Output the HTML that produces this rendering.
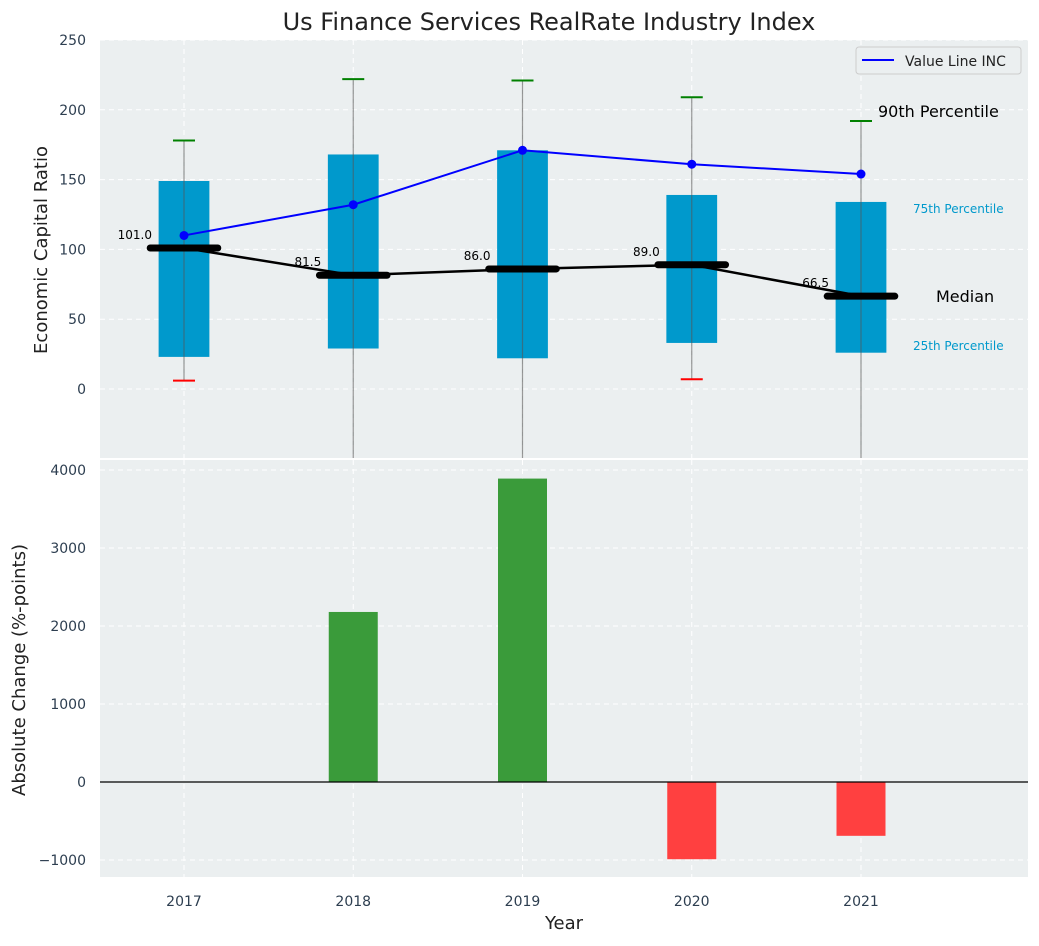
<!DOCTYPE html>
<html><head><meta charset="utf-8"><style>
body{margin:0;background:#fff;font-family:"DejaVu Sans","Liberation Sans",sans-serif;}
svg text{font-family:"DejaVu Sans","Liberation Sans",sans-serif;}
</style></head><body>
<svg id="c" width="1039" height="942" xmlns="http://www.w3.org/2000/svg"></svg>
<script>
const years=[2017,2018,2019,2020,2021];
const q1=[23,29,22,33,26];
const q3=[149,168,171,139,134];
const whiskLo=[6,-60,-60,7,-60];
const whiskHi=[178,222,221,209,192];
const medians=[101,81.5,86,89,66.5];
const valueLine=[110,132,171,161,154];
const changes=[0,2180,3890,-990,-690];
const yTicksTop=[0,50,100,150,200,250];
const yTicksBot=[-1000,0,1000,2000,3000,4000];

const NS="http://www.w3.org/2000/svg";
const svg=document.getElementById('c');
function el(t,a,p){const e=document.createElementNS(NS,t);for(const k in a)e.setAttribute(k,a[k]);(p||svg).appendChild(e);return e;}
const L=100,R=1028;
const x=v=>184+(v-2017)*169.25;
const T0=40,T1=458; const yT=v=>389-v*(389-40)/250;
const B0=460,B1=877; const yB=v=>782-v*0.078;

el('text',{x:549,y:30,'font-size':24,'text-anchor':'middle',fill:'#222',}).textContent='Us Finance Services RealRate Industry Index';

el('rect',{x:L,y:T0,width:R-L,height:T1-T0,fill:'#ebeff0',});
yTicksTop.forEach(t=>{
 el('line',{x1:L,x2:R,y1:yT(t),y2:yT(t),stroke:'#fff','stroke-dasharray':'5,4','stroke-width':1});
 const tx=el('text',{x:L-14,y:yT(t)+5,'font-size':14,'text-anchor':'end',fill:'#2d3e50'});
 tx.textContent=t;
});
years.forEach(y=>el('line',{x1:x(y),x2:x(y),y1:T0,y2:T1,stroke:'#fff','stroke-dasharray':'5,4'}));
el('text',{x:47,y:250,'font-size':18,'text-anchor':'middle',fill:'#222',transform:'rotate(-90 47 250)',}).textContent='Economic Capital Ratio';
const gTop=el('g',{'clip-path':'url(#ct)'});
const cp=el('clipPath',{id:'ct'});el('rect',{x:L,y:T0,width:R-L,height:T1-T0},cp);
const hw=0.15*(x(2018)-x(2017));
years.forEach((y,i)=>{
 const b=el('rect',{x:x(y)-hw,y:yT(q3[i]),width:2*hw,height:yT(q1[i])-yT(q3[i]),fill:'#0099cc'},gTop);
 
 el('line',{x1:x(y),x2:x(y),y1:yT(whiskHi[i]),y2:yT(whiskLo[i]),stroke:'#555','stroke-opacity':0.6,'stroke-width':1.2},gTop);
 el('line',{x1:x(y)-11,x2:x(y)+11,y1:yT(whiskHi[i]),y2:yT(whiskHi[i]),stroke:'green','stroke-width':2},gTop);
 if(whiskLo[i]>-50)el('line',{x1:x(y)-11,x2:x(y)+11,y1:yT(whiskLo[i]),y2:yT(whiskLo[i]),stroke:'red','stroke-width':2},gTop);
 const lt=el('text',{x:x(y)-32,y:yT(medians[i])-9,'font-size':12,'text-anchor':'end',fill:'#000'},gTop);
 lt.textContent=medians[i].toFixed(1);
});
el('polyline',{points:years.map((y,i)=>x(y)+','+yT(medians[i])).join(' '),fill:'none',stroke:'#000','stroke-width':2.5,},gTop);
years.forEach((y,i)=>{
 const m=el('line',{x1:x(y)-0.2*169,x2:x(y)+0.2*169,y1:yT(medians[i]),y2:yT(medians[i]),stroke:'#000','stroke-width':7,'stroke-linecap':'round'},gTop);
 
});
el('polyline',{points:years.map((y,i)=>x(y)+','+yT(valueLine[i])).join(' '),fill:'none',stroke:'blue','stroke-width':2,},gTop);
years.forEach((y,i)=>{const c=el('circle',{cx:x(y),cy:yT(valueLine[i]),r:4.5,fill:'blue'},gTop);});
el('text',{x:878,y:117,'font-size':16,fill:'#000',}).textContent='90th Percentile';
el('text',{x:913,y:213,'font-size':12,fill:'#0099cc',}).textContent='75th Percentile';
el('text',{x:936,y:302,'font-size':16,fill:'#000',}).textContent='Median';
el('text',{x:913,y:350,'font-size':12,fill:'#0099cc',}).textContent='25th Percentile';
const lg=el('g',{});
el('rect',{x:856,y:47,width:165,height:27,rx:3,fill:'#ebeff0',stroke:'#ccc'},lg);
el('line',{x1:862,x2:894,y1:60,y2:60,stroke:'blue','stroke-width':2},lg);
el('text',{x:905,y:66,'font-size':14,fill:'#222'},lg).textContent='Value Line INC';

el('rect',{x:L,y:B0,width:R-L,height:B1-B0,fill:'#ebeff0',});
yTicksBot.forEach(t=>{
 el('line',{x1:L,x2:R,y1:yB(t),y2:yB(t),stroke:'#fff','stroke-dasharray':'5,4'});
 const tx=el('text',{x:L-14,y:yB(t)+5,'font-size':14,'text-anchor':'end',fill:'#2d3e50'});
 tx.textContent=(t<0?'\u2212':'')+Math.abs(t);
});
years.forEach(y=>el('line',{x1:x(y),x2:x(y),y1:B0,y2:B1,stroke:'#fff','stroke-dasharray':'5,4'}));
years.forEach((y,i)=>{
 const v=changes[i];if(v===0)return;
 const r=el('rect',{x:x(y)-24.5,y:Math.min(yB(v),yB(0)),width:49,height:Math.abs(yB(v)-yB(0)),fill:v>0?'#3a9b3a':'#ff4040'});
 
});
el('line',{x1:L,x2:R,y1:yB(0),y2:yB(0),stroke:'#000','stroke-width':1.2,});
years.forEach(y=>{const t=el('text',{x:x(y),y:906,'font-size':14,'text-anchor':'middle',fill:'#2d3e50'});t.textContent=y;});
el('text',{x:564,y:929,'font-size':18,'text-anchor':'middle',fill:'#222',}).textContent='Year';
el('text',{x:25,y:670,'font-size':18,'text-anchor':'middle',fill:'#222',transform:'rotate(-90 25 670)',}).textContent='Absolute Change (%-points)';
</script>
</body></html>
